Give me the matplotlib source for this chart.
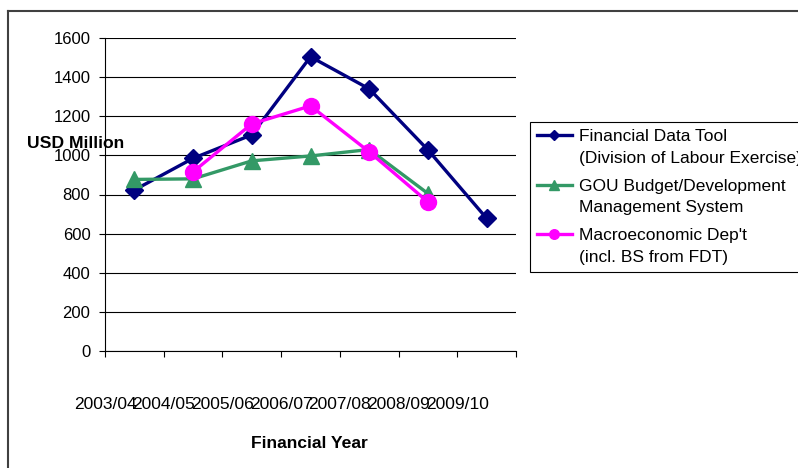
import numpy as np
import matplotlib
matplotlib.use("Agg")
import matplotlib.pyplot as plt
from matplotlib.lines import Line2D

plt.rcParams['font.family'] = ['Liberation Sans', 'DejaVu Sans']

years = ["2003/04", "2004/05", "2005/06", "2006/07", "2007/08", "2008/09", "2009/10"]
fdt = [823, 985, 1105, 1504, 1340, 1028, 678]
gou = [877, 880, 972, 997, 1030, 805, np.nan]
macro = [np.nan, 916, 1161, 1253, 1018, 762, np.nan]

labels = ["Financial Data Tool\n(Division of Labour Exercise)",
          "GOU Budget/Development\nManagement System",
          "Macroeconomic Dep't\n(incl. BS from FDT)"]

fig = plt.figure(figsize=(7.98, 4.68), dpi=100)
ax = fig.add_axes([105 / 798, 1 - 351 / 468, 411 / 798, 313 / 468])

x = np.arange(len(years))
ax.plot(x, fdt, color="#000080", lw=2.4, marker="D", ms=9, zorder=3)
ax.plot(x, gou, color="#339966", lw=2.4, marker="^", ms=11, zorder=4)
ax.plot(x, macro, color="#FF00FF", lw=2.4, marker="o", ms=11.5, zorder=5)

ax.set_xlim(-0.5, len(years) - 0.5)
ax.set_ylim(0, 1600)
ax.set_yticks(np.arange(0, 1601, 200))
ax.yaxis.grid(True, color="black", lw=0.8)
ax.set_axisbelow(True)

# category labels sit at the left edge of each category (as in the source)
ax.set_xticks(np.arange(-0.5, len(years)))
ax.set_xticklabels(years + [""])

for s in ["top", "right"]:
    ax.spines[s].set_visible(False)
for s in ["left", "bottom"]:
    ax.spines[s].set_linewidth(0.8)
ax.tick_params(axis="x", length=4, width=0.8, pad=29, labelsize=12.5)
ax.tick_params(axis="y", length=4, width=0.8, pad=6.5, labelsize=12)

fig.text(27 / 798, 1 - 143 / 468, "USD Million", fontsize=12.6, fontweight="bold",
         ha="left", va="center")
fig.text(309 / 798, 1 - 443 / 468, "Financial Year", fontsize=12.6, fontweight="bold",
         ha="center", va="center")

# outer chart border (only top and left show inside the crop)
fig.add_artist(Line2D([8 / 798, 8 / 798], [0, 1 - 11 / 468], color="#404040", lw=1.5))
fig.add_artist(Line2D([8 / 798, 1], [1 - 11 / 468, 1 - 11 / 468], color="#404040", lw=1.5))

handles = ax.get_lines()
leg = fig.legend(handles, labels, loc="upper left",
                 bbox_to_anchor=(530 / 798, 1 - 122 / 468),
                 fontsize=12.5, frameon=True, fancybox=False, framealpha=1,
                 edgecolor="black", markerscale=0.6, handlelength=2.0,
                 handletextpad=0.4, borderpad=0.4, labelspacing=0.75,
                 borderaxespad=0)
leg.get_frame().set_linewidth(0.8)
for t in leg.get_texts():
    t.set_linespacing(1.55)
# put the handle next to the first line of each two-line label
for col in leg._legend_handle_box.get_children():
    for hp in col.get_children():
        hp.align = "top"

fig.savefig("out.png", dpi=100)
